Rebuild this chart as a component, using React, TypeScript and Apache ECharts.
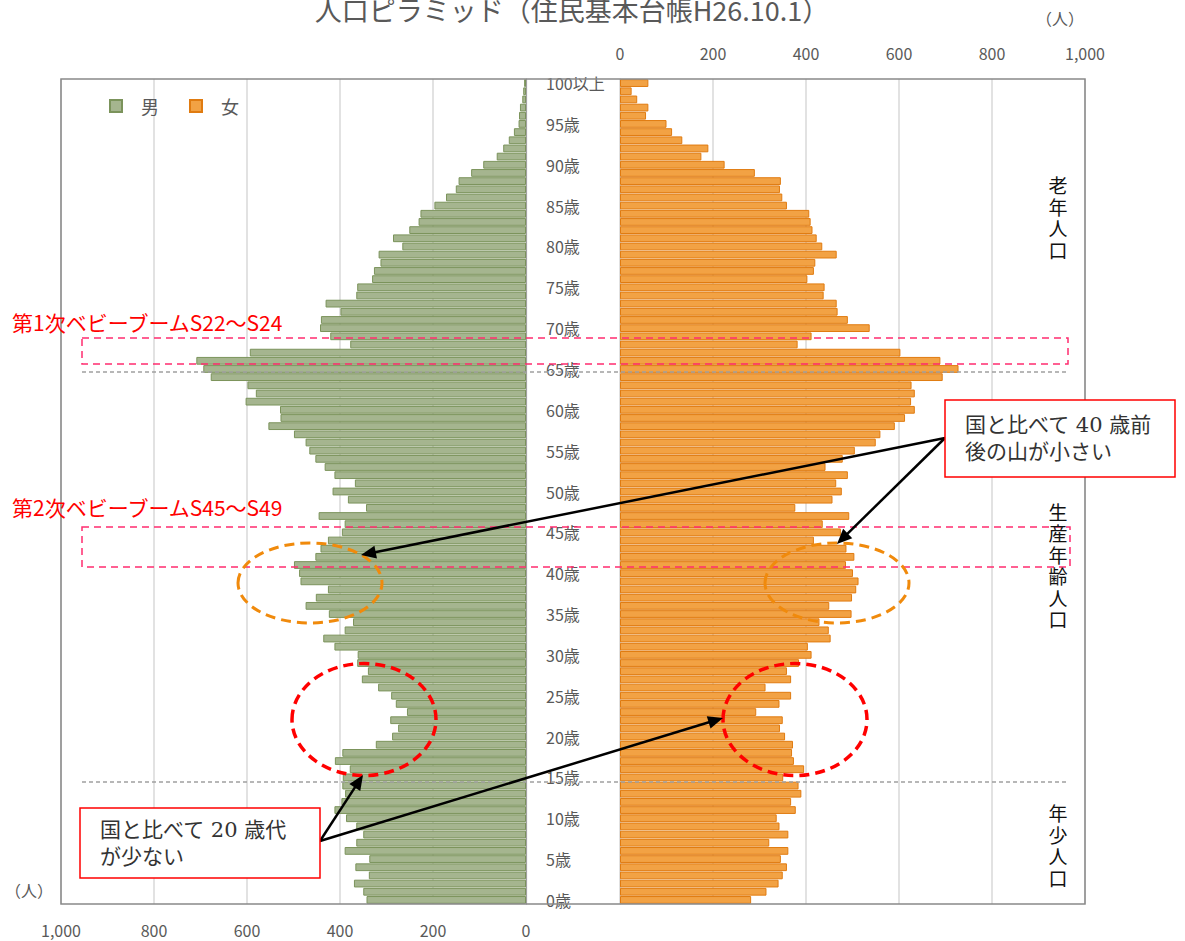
import React, { useEffect, useRef } from "react";
import * as echarts from "echarts";

// ages 0..99 + "100以上"
const ageLabels: string[] = [
  ...Array.from({ length: 100 }, (_, i) => `${i}歳`),
  "100以上",
];

// male population by age (index = age, 0..100以上)
const maleValues = [
  343, 350, 370, 338, 367, 337, 390, 365, 350, 365,
  387, 412, 397, 389, 395, 394, 379, 411, 395, 323,
  288, 275, 292, 256, 280, 290, 318, 353, 340, 363,
  362, 412, 436, 390, 372, 424, 474, 452, 426, 485,
  488, 499, 453, 442, 426, 396, 390, 446, 344, 383,
  416, 368, 412, 433, 453, 466, 474, 499, 554, 528,
  529, 603, 581, 599, 678, 694, 709, 594, 378, 421,
  443, 441, 399, 431, 365, 363, 331, 327, 313, 317,
  266, 286, 251, 231, 227, 197, 172, 151, 145, 118,
  92, 63, 49, 37, 26, 16, 15, 13, 8, 6,
  4,
];

// female population by age (index = age, 0..100以上)
const femaleValues = [
  282, 315, 341, 350, 359, 346, 362, 321, 362, 343,
  337, 378, 368, 390, 384, 351, 396, 374, 370, 372,
  355, 344, 350, 293, 343, 368, 313, 368, 359, 385,
  412, 404, 453, 449, 429, 498, 450, 499, 508, 513,
  501, 486, 504, 487, 417, 475, 436, 493, 377, 457,
  477, 465, 490, 442, 479, 505, 550, 560, 591, 613,
  634, 626, 634, 627, 694, 728, 689, 603, 382, 412,
  537, 490, 468, 466, 438, 440, 403, 417, 420, 466,
  435, 423, 414, 410, 407, 359, 349, 344, 346, 290,
  225, 175, 190, 134, 112, 100, 56, 61, 37, 25,
  61,
];

const titleText = "人口ピラミッド（住民基本台帳H26.10.1）";
const seriesNames = ["男", "女"];

const FONT = "'Noto Sans CJK JP', 'Noto Sans', sans-serif";
const SERIF = "'DejaVu Serif', 'Liberation Serif', 'Noto Sans CJK JP', serif";

function fmt(v: number) {
  return v.toLocaleString("en-US");
}

function arrow(x1: number, y1: number, x2: number, y2: number) {
  const dx = x2 - x1;
  const dy = y2 - y1;
  const L = Math.hypot(dx, dy);
  const ux = dx / L;
  const uy = dy / L;
  const hl = 15;
  const hw = 6.5;
  const bx = x2 - ux * hl;
  const by = y2 - uy * hl;
  const px = -uy;
  const py = ux;
  return [
    {
      type: "line",
      z: 100,
      silent: true,
      shape: { x1, y1, x2: bx + ux * 2, y2: by + uy * 2 },
      style: { stroke: "#000", lineWidth: 2.5 },
    },
    {
      type: "polygon",
      z: 100,
      silent: true,
      shape: {
        points: [
          [x2, y2],
          [bx + px * hw, by + py * hw],
          [bx - px * hw, by - py * hw],
        ],
      },
      style: { fill: "#000" },
    },
  ];
}

// vertical text: one text element per character
function vtext(chars: string, x: number, yCenter: number) {
  const step = 21.5;
  const arr = chars.split("");
  const y0 = yCenter - ((arr.length - 1) * step) / 2;
  return arr.map((c, i) => ({
    type: "text",
    z: 100,
    silent: true,
    x,
    y: y0 + i * step,
    style: {
      text: c,
      fontSize: 19,
      fill: "#111",
      align: "center",
      verticalAlign: "middle",
      fontFamily: FONT,
    },
  }));
}

function ellipse(cx: number, cy: number, rx: number, ry: number, color: string, w: number, dash: number[]) {
  return {
    type: "ellipse",
    z: 100,
    silent: true,
    shape: { cx, cy, rx, ry },
    style: { fill: "none", stroke: color, lineWidth: w, lineDash: dash },
  };
}

function dashedRect(x: number, y: number, w: number, h: number) {
  return {
    type: "rect",
    z: 100,
    silent: true,
    shape: { x, y, width: w, height: h },
    style: { fill: "none", stroke: "#ff2d6f", lineWidth: 1.5, lineDash: [7, 5] },
  };
}

function grayDash(y: number) {
  return {
    type: "line",
    z: 99,
    silent: true,
    shape: { x1: 82, y1: y, x2: 1068, y2: y },
    style: { stroke: "#a0a0a0", lineWidth: 1.5, lineDash: [4, 3] },
  };
}

function calloutBox(x: number, y: number, w: number, h: number, lines: string[], firstLineY: number) {
  const lh = 27;
  return [
    {
      type: "rect",
      z: 101,
      silent: true,
      shape: { x, y, width: w, height: h },
      style: { fill: "#fff", stroke: "#ff0000", lineWidth: 1.5 },
    },
    ...lines.map((t, i) => ({
      type: "text",
      z: 102,
      silent: true,
      x: x + 20,
      y: firstLineY + i * lh,
      style: {
        text: t,
        fontSize: 21,
        fill: "#333",
        fontFamily: SERIF,
        verticalAlign: "middle",
      },
    })),
  ];
}

export default function App() {
  const ref = useRef<HTMLDivElement>(null);

  useEffect(() => {
    document.body.style.margin = "0";
    if (!ref.current) return;
    const chart = echarts.init(ref.current, null, { renderer: "svg" });

    const axisLabelStyle = { fontSize: 16, color: "#595959", fontFamily: FONT };

    const option: any = {
      animation: false,
      backgroundColor: "#fff",
      textStyle: { fontFamily: FONT },
      legend: {
        data: seriesNames,
        left: 104,
        top: 92,
        icon: "rect",
        itemWidth: 12,
        itemHeight: 12,
        itemGap: 30,
        textStyle: { fontSize: 18, color: "#595959", padding: [0, 0, 0, 14], fontFamily: FONT },
      },
      grid: [
        { left: 61, top: 79, width: 465, height: 825 },
        { left: 620, top: 79, width: 465, height: 825 },
      ],
      xAxis: [
        {
          gridIndex: 0,
          type: "value",
          min: 0,
          max: 1000,
          interval: 200,
          inverse: true,
          position: "bottom",
          axisLine: { show: false },
          axisTick: { show: false },
          axisLabel: { ...axisLabelStyle, margin: 18, formatter: (v: number) => fmt(v) },
          splitLine: { show: true, lineStyle: { color: "#d9d9d9", width: 1.5 } },
        },
        {
          gridIndex: 1,
          type: "value",
          min: 0,
          max: 1000,
          interval: 200,
          position: "top",
          axisLine: { show: false },
          axisTick: { show: false },
          axisLabel: { ...axisLabelStyle, margin: 18, formatter: (v: number) => fmt(v) },
          splitLine: { show: true, lineStyle: { color: "#d9d9d9", width: 1.5 } },
        },
      ],
      yAxis: [
        {
          gridIndex: 0,
          type: "category",
          data: ageLabels,
          position: "right",
          axisLine: { show: true, lineStyle: { color: "#a0a0a0", width: 1.2 } },
          axisTick: { show: false },
          axisLabel: { show: false },
          splitLine: { show: false },
        },
        {
          gridIndex: 1,
          type: "category",
          data: ageLabels,
          position: "left",
          axisLine: { show: true, lineStyle: { color: "#c8c8c8", width: 1.2 } },
          axisTick: { show: false },
          axisLabel: {
            ...axisLabelStyle,
            interval: (i: number) => i % 5 === 0,
            align: "left",
            margin: 74,
          },
          splitLine: { show: false },
        },
      ],
      series: [
        {
          name: seriesNames[0],
          type: "bar",
          xAxisIndex: 0,
          yAxisIndex: 0,
          data: maleValues,
          barCategoryGap: "5%",
          itemStyle: { color: "#a5b58f", borderColor: "#7b935b", borderWidth: 1 },
        },
        {
          name: seriesNames[1],
          type: "bar",
          xAxisIndex: 1,
          yAxisIndex: 1,
          data: femaleValues,
          barCategoryGap: "5%",
          itemStyle: { color: "#f2a244", borderColor: "#e07b10", borderWidth: 1 },
        },
      ],
      graphic: [
        {
          type: "rect",
          z: 50,
          silent: true,
          shape: { x: 61, y: 79, width: 1024, height: 825 },
          style: { fill: "none", stroke: "#898989", lineWidth: 1.5 },
        },
        {
          type: "text",
          z: 100,
          x: 572,
          y: 9,
          style: {
            text: titleText,
            fontSize: 27,
            fill: "#595959",
            align: "center",
            verticalAlign: "middle",
            fontFamily: FONT,
          },
        },
        {
          type: "text",
          z: 100,
          x: 1060,
          y: 18,
          style: { text: "（人）", fontSize: 16, fill: "#595959", align: "center", verticalAlign: "middle", fontFamily: FONT },
        },
        {
          type: "text",
          z: 100,
          x: 29,
          y: 890,
          style: { text: "（人）", fontSize: 16, fill: "#595959", align: "center", verticalAlign: "middle", fontFamily: FONT },
        },
        {
          type: "text",
          z: 100,
          x: 12,
          y: 322,
          style: { text: "第1次ベビーブームS22～S24", fontSize: 21, fill: "#ff0000", verticalAlign: "middle", fontFamily: FONT },
        },
        {
          type: "text",
          z: 100,
          x: 12,
          y: 507,
          style: { text: "第2次ベビーブームS45～S49", fontSize: 21, fill: "#ff0000", verticalAlign: "middle", fontFamily: FONT },
        },
        grayDash(372),
        grayDash(782),
        dashedRect(82, 338, 986, 26),
        dashedRect(82, 527, 988, 40),
        ellipse(310, 583, 72, 40, "#f08a0c", 3, [10, 6]),
        ellipse(837, 583, 72, 40, "#f08a0c", 3, [10, 6]),
        ellipse(364, 719.5, 72, 56, "#ff0000", 3.5, [10, 6]),
        ellipse(795, 719.5, 72, 56, "#ff0000", 3.5, [10, 6]),
        ...vtext("老年人口", 1058, 217),
        ...vtext("生産年齢人口", 1058, 565),
        ...vtext("年少人口", 1058, 845),
        ...arrow(945, 438, 361, 555),
        ...arrow(945, 438, 837, 544),
        ...arrow(320, 841, 363, 775),
        ...arrow(320, 841, 723, 718),
        ...calloutBox(945, 400, 230, 77, ["国と比べて 40 歳前", "後の山が小さい"], 425),
        ...calloutBox(80, 808, 240, 70, ["国と比べて 20 歳代", "が少ない"], 830),
      ],
    };

    chart.setOption(option);
    return () => {
      chart.dispose();
    };
  }, []);

  return (
    <div
      ref={ref}
      style={{ position: "fixed", left: 0, top: 0, width: 1185, height: 941, background: "#fff" }}
    />
  );
}
